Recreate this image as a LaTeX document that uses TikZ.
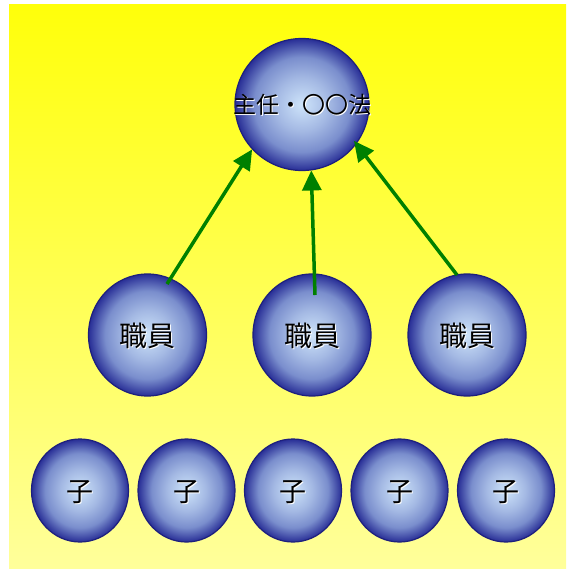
\documentclass[tikz,border=0pt]{standalone}
\usepackage{fontspec}
\setmainfont{Noto Sans CJK JP}
\usetikzlibrary{arrows.meta,shapes.geometric}

\definecolor{ballcenter}{RGB}{206,228,250}
\definecolor{ballmid}{RGB}{122,142,205}
\definecolor{balledge}{RGB}{40,46,150}
\definecolor{ballline}{RGB}{30,32,125}
\definecolor{arrowgreen}{RGB}{0,128,0}
\definecolor{bgtop}{RGB}{255,255,10}
\definecolor{bgbottom}{RGB}{255,255,155}

% the ellipse edge falls at about 25bp of this shading
\pgfdeclareradialshading{ball}{\pgfpoint{0bp}{0bp}}{%
  color(0bp)=(ballcenter); color(10bp)=(ballmid!50!ballcenter);
  color(18bp)=(ballmid); color(25bp)=(balledge); color(100bp)=(balledge)}

\tikzset{
  ball/.style={ellipse, draw=ballline, line width=1.2pt, shading=ball,
    inner sep=0pt},
  lead/.style={ball, minimum width=134pt, minimum height=132pt},
  staff/.style={ball, minimum width=118pt, minimum height=122pt},
  kid/.style={ball, minimum width=97pt, minimum height=103pt},
  link/.style={draw=arrowgreen, line width=3.5pt,
    -{Triangle[length=20pt,width=19pt]}},
}

% label with a faint light halo beneath the black glyphs
\newcommand{\halotext}[2]{%
  \makebox[0pt]{\fontsize{#1}{#1}\selectfont
    \rlap{\raisebox{-1pt}{\hspace{1pt}\color{white}#2}}%
    \color{black}#2}}

\begin{document}
\begin{tikzpicture}[x=1pt,y=-1pt]
  \useasboundingbox (0,0) rectangle (566,569);
  % background panel
  \shade[top color=bgtop, bottom color=bgbottom] (9,5) rectangle (566,569);

  % circles
  \node[lead]  (top) at (302,104.5) {};
  \node[staff] (m1)  at (147.5,335) {};
  \node[staff] (m2)  at (312,335)   {};
  \node[staff] (m3)  at (467,335)   {};
  \node[kid]   (k1)  at (80,490.5)  {};
  \node[kid]   (k2)  at (186.5,490.5) {};
  \node[kid]   (k3)  at (293,490.5) {};
  \node[kid]   (k4)  at (399.5,490.5) {};
  \node[kid]   (k5)  at (506,490.5) {};

  % labels
  \node at (top.center) [yshift=-1pt] {\halotext{23pt}{主任・〇〇法}};
  \foreach \n in {m1,m2,m3}
    \node at (\n.center) [yshift=-1pt] {\halotext{28pt}{職員}};
  \foreach \n in {k1,k2,k3,k4,k5}
    \node at (\n.center) [yshift=-2pt] {\halotext{27pt}{子}};

  % arrow tails sit just inside the staff circles
  \coordinate (s1) at (167,284);
  \coordinate (s2) at (315,295);
  \coordinate (s3) at (457,275);
  \draw[link] (s1) -- (top.222);
  \draw[link] (s2) -- (top.278);
  \draw[link, shorten >=-4pt] (s3) -- (top.324);
\end{tikzpicture}
\end{document}
